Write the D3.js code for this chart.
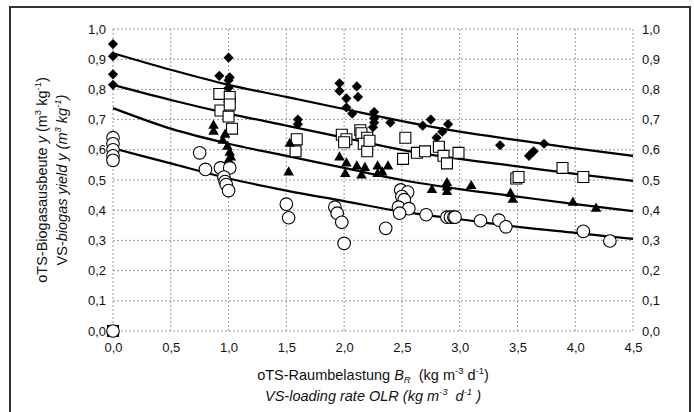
<!DOCTYPE html>
<html>
<head>
<meta charset="utf-8">
<script src="https://cdn.jsdelivr.net/npm/d3@7"></script>
<style>
  body { margin: 0; background: #fff; }
  svg text { font-family: "Liberation Sans", Arial, sans-serif; fill: #111; }
</style>
</head>
<body>
<div id="chart"></div>
<script>
// ---- data ----
var diamondX = [0, 0, 0, 0, 0.92, 1.0, 1.01, 1.0, 1.0, 1.6, 1.6, 1.96, 1.96, 2.11, 2.02, 2.12, 2.02, 2.07,
                2.26, 2.26, 2.26, 2.25, 2.4, 2.68, 2.75, 2.9, 2.85, 2.8, 3.35, 3.64, 3.6, 3.73];
var diamondY = [0.95, 0.91, 0.85, 0.815, 0.845, 0.905, 0.84, 0.83, 0.805, 0.70, 0.685, 0.82, 0.795, 0.81, 0.77, 0.775, 0.74, 0.72,
                0.725, 0.705, 0.69, 0.675, 0.69, 0.68, 0.70, 0.685, 0.66, 0.64, 0.615, 0.595, 0.58, 0.62];

var squareX = [0, 0.92, 1.01, 0.93, 1.01, 1.0, 1.03, 1.59, 1.58, 1.98, 2.02, 2.0, 2.14, 2.15, 2.2, 2.17, 2.2, 2.22,
               2.53, 2.51, 2.63, 2.7, 2.82, 2.86, 2.89, 2.99, 3.49, 3.51, 3.89, 4.07];
var squareY = [0, 0.785, 0.775, 0.73, 0.75, 0.71, 0.67, 0.635, 0.595, 0.65, 0.635, 0.625, 0.665, 0.655, 0.64, 0.62, 0.595, 0.63,
               0.64, 0.57, 0.59, 0.595, 0.61, 0.58, 0.555, 0.59, 0.505, 0.51, 0.54, 0.51];

var triangleX = [0.87, 0.87, 0.97, 0.95, 0.99, 1.01, 1.02, 1.0, 1.53, 1.52, 1.96, 2.02, 2.01, 2.11, 2.15, 2.18, 2.29, 2.33, 2.29, 2.38,
                 2.76, 2.89, 2.89, 2.89, 3.1, 3.44, 3.46, 3.98, 4.18];
var triangleY = [0.68, 0.66, 0.65, 0.63, 0.61, 0.59, 0.575, 0.565, 0.62, 0.525, 0.575, 0.555, 0.52, 0.545, 0.515, 0.54, 0.545, 0.525, 0.52, 0.545,
                 0.467, 0.49, 0.475, 0.46, 0.48, 0.455, 0.435, 0.425, 0.405];

var circleX = [0, 0, 0, 0, 0, 0, 0.75, 0.8, 0.93, 1.01, 0.96, 0.97, 0.98, 1.0, 1.5, 1.52, 1.92, 1.94, 1.98, 2.0, 2.36,
               2.49, 2.55, 2.5, 2.52, 2.47, 2.56, 2.48, 2.71, 2.89, 2.92, 2.95, 2.96, 3.18, 3.34, 3.4, 4.07, 4.3];
var circleY = [0, 0.64, 0.62, 0.60, 0.58, 0.565, 0.59, 0.535, 0.54, 0.54, 0.51, 0.495, 0.485, 0.465, 0.42, 0.375, 0.41, 0.39, 0.36, 0.29, 0.34,
               0.467, 0.46, 0.445, 0.435, 0.41, 0.405, 0.39, 0.385, 0.377, 0.377, 0.377, 0.377, 0.365, 0.367, 0.345, 0.33, 0.298];

// fitted curves
var curveX = [0, 0.5, 1.0, 1.5, 2.0, 2.5, 3.0, 3.5, 4.0, 4.5];
var curveA = [0.92, 0.865, 0.815, 0.775, 0.735, 0.695, 0.66, 0.632, 0.605, 0.58];
var curveB = [0.815, 0.765, 0.72, 0.68, 0.64, 0.60, 0.57, 0.545, 0.52, 0.497];
var curveC = [0.738, 0.67, 0.62, 0.58, 0.54, 0.50, 0.47, 0.445, 0.42, 0.397];
var curveD = [0.605, 0.555, 0.505, 0.465, 0.43, 0.395, 0.37, 0.345, 0.325, 0.305];

var xTicks = [0, 0.5, 1.0, 1.5, 2.0, 2.5, 3.0, 3.5, 4.0, 4.5];
var yTicks = [0, 0.1, 0.2, 0.3, 0.4, 0.5, 0.6, 0.7, 0.8, 0.9, 1.0];

// ---- layout ----
var width = 694, height = 412;
var margin = {top: 29, right: 61, bottom: 81, left: 113};

var svg = d3.select('#chart').append('svg')
  .attr('width', width)
  .attr('height', height);

// outer frame
svg.append('rect')
  .attr('x', 10).attr('y', 7)
  .attr('width', 680).attr('height', 420)
  .attr('fill', 'none')
  .attr('stroke', '#333')
  .attr('stroke-width', 2);

var x = d3.scaleLinear().domain([0, 4.5]).range([margin.left, width - margin.right]);
var y = d3.scaleLinear().domain([0, 1.0]).range([height - margin.bottom, margin.top]);

var fmt = function(d) { return d3.format('.1f')(d).replace('.', ','); };

// grid
var grid = svg.append('g').attr('class', 'grid');
grid.selectAll('.hgrid')
  .data(yTicks).enter().append('line')
  .attr('x1', x(0)).attr('x2', x(4.5))
  .attr('y1', d => y(d)).attr('y2', d => y(d))
  .attr('stroke', '#999').attr('stroke-width', 1)
  .attr('stroke-dasharray', '2,2');
grid.selectAll('.vgrid')
  .data(xTicks).enter().append('line')
  .attr('y1', y(0)).attr('y2', y(1.0))
  .attr('x1', d => x(d)).attr('x2', d => x(d))
  .attr('stroke', '#999').attr('stroke-width', 1)
  .attr('stroke-dasharray', '2,2');

// axes (labels only)
var axisBottom = d3.axisBottom(x).tickValues(xTicks).tickFormat(fmt).tickSize(0).tickPadding(12);
var axisLeft = d3.axisLeft(y).tickValues(yTicks).tickFormat(fmt).tickSize(0).tickPadding(7);
var axisRight = d3.axisRight(y).tickValues(yTicks).tickFormat(fmt).tickSize(0).tickPadding(9);

[svg.append('g').attr('transform', `translate(0, ${y(0)})`).call(axisBottom),
 svg.append('g').attr('transform', `translate(${x(0)}, 0)`).call(axisLeft),
 svg.append('g').attr('transform', `translate(${x(4.5)}, 0)`).call(axisRight)]
  .forEach(function(g) {
    g.select('.domain').remove();
    g.selectAll('text').style('font-size', '13px').attr('fill', '#111');
  });

// curves
var line = d3.line()
  .x((d, i) => x(curveX[i]))
  .y(d => y(d))
  .curve(d3.curveMonotoneX);

svg.append('g').selectAll('path')
  .data([curveA, curveB, curveC, curveD])
  .enter().append('path')
  .attr('d', line)
  .attr('fill', 'none')
  .attr('stroke', '#000')
  .attr('stroke-width', 2.2);

// markers
function pts(xs, ys) { return xs.map((v, i) => [v, ys[i]]); }

var marks = svg.append('g');

marks.selectAll('.diamond')
  .data(pts(diamondX, diamondY)).enter().append('path')
  .attr('d', d3.symbol(d3.symbolSquare, 52))
  .attr('transform', d => `translate(${x(d[0])},${y(d[1])}) rotate(45)`)
  .attr('fill', '#000');

marks.selectAll('.square')
  .data(pts(squareX, squareY)).enter().append('path')
  .attr('d', d3.symbol(d3.symbolSquare, 120))
  .attr('transform', d => `translate(${x(d[0])},${y(d[1])})`)
  .attr('fill', '#fff').attr('stroke', '#000').attr('stroke-width', 1.1);

marks.selectAll('.triangle')
  .data(pts(triangleX, triangleY)).enter().append('path')
  .attr('d', d3.symbol(d3.symbolTriangle, 48))
  .attr('transform', d => `translate(${x(d[0])},${y(d[1])})`)
  .attr('fill', '#000');

marks.selectAll('.circle')
  .data(pts(circleX, circleY)).enter().append('circle')
  .attr('cx', d => x(d[0])).attr('cy', d => y(d[1]))
  .attr('r', 6.3)
  .attr('fill', '#fff').attr('stroke', '#000').attr('stroke-width', 1.1);

// titles: parts are [text, shift(0 normal, 1 sup, -1 sub), italic]
function richText(t, parts) {
  var cur = 0;
  parts.forEach(function(p) {
    var shift = p[1] || 0;
    var target = shift === 1 ? -6 : (shift === -1 ? 3 : 0);
    var ts = t.append('tspan').text(p[0]);
    if (target !== cur) { ts.attr('dy', target - cur); cur = target; }
    if (shift !== 0) ts.attr('font-size', '9.5px');
    if (p[2]) ts.attr('font-style', 'italic');
  });
}

var cx = (x(0) + x(4.5)) / 2;
var xt1 = svg.append('text').attr('x', cx).attr('y', 380).attr('text-anchor', 'middle').style('font-size', '14.5px');
richText(xt1, [['oTS-Raumbelastung '], ['B', 0, true], ['R', -1, true], ['\u00a0 (kg m'], ['-3', 1],
               [' d'], ['-1', 1], [')']]);

var xt2 = svg.append('text').attr('x', cx).attr('y', 401).attr('text-anchor', 'middle')
  .style('font-size', '14.5px').attr('font-style', 'italic');
richText(xt2, [['VS-loading rate OLR (kg m'], ['-3', 1], ['\u00a0 d'], ['-1', 1], [' )']]);

var cy = (y(0) + y(1.0)) / 2;
var yt1 = svg.append('text').attr('transform', `translate(47, ${cy}) rotate(-90)`)
  .attr('text-anchor', 'middle').style('font-size', '14.5px');
richText(yt1, [['oTS-Biogasausbeute '], ['y', 0, true], [' (m'], ['3', 1], [' kg'], ['-1', 1], [')']]);

var yt2 = svg.append('text').attr('transform', `translate(67, ${cy}) rotate(-90)`)
  .attr('text-anchor', 'middle').style('font-size', '14.5px');
richText(yt2, [['VS-'], ['biogas yield y (m', 0, true], ['3', 1, true], [' kg', 0, true], ['-1', 1, true], [')', 0, true]]);
</script>
</body>
</html>
